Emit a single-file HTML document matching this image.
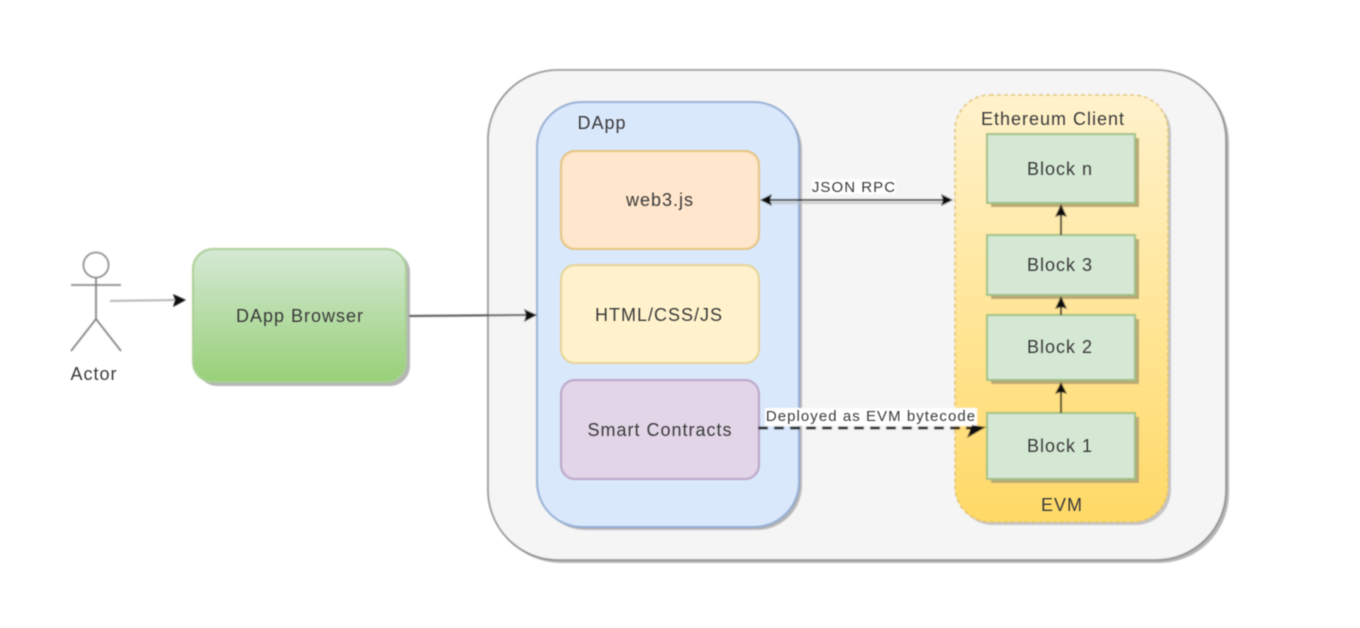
<!DOCTYPE html>
<html><head><meta charset="utf-8"><style>
html,body{margin:0;padding:0;background:#fff}
svg{display:block}
text{font-family:"Liberation Sans",sans-serif;font-size:18px;letter-spacing:1px;fill:#3a3a3a;text-anchor:middle}
</style></head><body>
<svg width="1360" height="628" viewBox="0 0 1360 628" xmlns="http://www.w3.org/2000/svg">
<defs>
<linearGradient id="g" x1="0" y1="0" x2="0" y2="1"><stop offset="0" stop-color="#d5e8d4"/><stop offset="1" stop-color="#97d077"/></linearGradient>
<linearGradient id="y" x1="0" y1="0" x2="0" y2="1"><stop offset="0" stop-color="#fff2cc"/><stop offset="1" stop-color="#ffd966"/></linearGradient>
<filter id="b" x="-5%" y="-5%" width="110%" height="110%"><feGaussianBlur stdDeviation="0.8"/></filter>
<filter id="t" x="-5%" y="-20%" width="110%" height="140%"><feGaussianBlur stdDeviation="0.5"/></filter>
</defs>
<g filter="url(#b)">
<rect x="491" y="73" width="738" height="490" rx="70" fill="#b5b5b5"/>
<rect x="488" y="70" width="738" height="490" rx="70" fill="#f5f5f5" stroke="#858585" stroke-width="1.6"/>
<rect x="540" y="105" width="262" height="425" rx="45" fill="#b5b5b5"/>
<rect x="537" y="102" width="262" height="425" rx="45" fill="#dae8fc" stroke="#8eabd2" stroke-width="2"/>
<rect x="561" y="151" width="198" height="98" rx="14" fill="#ffe6cc" stroke="#e6c06c" stroke-width="2"/>
<rect x="561" y="265" width="198" height="98" rx="14" fill="#fff2cc" stroke="#e6d28e" stroke-width="2"/>
<rect x="561" y="380" width="198" height="99" rx="14" fill="#e1d5e7" stroke="#b79ec3" stroke-width="2"/>
<rect x="958" y="98" width="213" height="427" rx="35" fill="#c4c4c4"/>
<rect x="955" y="95" width="213" height="427" rx="35" fill="url(#y)" stroke="#e0c060" stroke-width="1.5" stroke-dasharray="4 3"/>
<g fill="#b9a873">
<rect x="991" y="138" width="148" height="69"/>
<rect x="991" y="239" width="148" height="60"/>
<rect x="991" y="319" width="148" height="65"/>
<rect x="991" y="417" width="148" height="66"/>
</g>
<g fill="#d5e8d4" stroke="#9dc082" stroke-width="2">
<rect x="987" y="134" width="148" height="69"/>
<rect x="987" y="235" width="148" height="60"/>
<rect x="987" y="315" width="148" height="65"/>
<rect x="987" y="413" width="148" height="66"/>
</g>
<rect x="197" y="252" width="213" height="134" rx="20" fill="#b5b5b5"/>
<rect x="193" y="249" width="213" height="133" rx="20" fill="url(#g)" stroke="#a9cf94" stroke-width="2"/>
<g fill="none" stroke="#777" stroke-width="1.6">
<circle cx="96" cy="265" r="12.5" fill="#fff"/>
<path d="M71 285H121M96 277V319M96 319L71 351M96 319L121 351"/>
</g>
<path d="M110 301L175 300" stroke="#b5b5b5" stroke-width="2" fill="none"/>
<path d="M186 300L173 294L175 300L173 307Z" fill="#111"/>
<path d="M409 316L526 315" stroke="#555" stroke-width="2" fill="none"/>
<path d="M537 315L524 309L526 315L524 322Z" fill="#111"/>
<path d="M768 200H945" stroke="#333" stroke-width="2" fill="none"/>
<path d="M768 203H945" stroke="#bbb" stroke-width="1.5" fill="none"/>
<path d="M760 200L772 194L770 200L772 206Z M953 200L941 194L943 200L941 206Z" fill="#111"/>
<path d="M1061 235V212M1061 315V302M1061 413V392" stroke="#222" stroke-width="2" fill="none"/>
<path d="M1061 204L1055 217L1061 215L1067 217Z M1061 296L1055 309L1061 307L1067 309Z M1061 382L1055 394L1061 392L1067 394Z" fill="#111"/>
<rect x="812" y="179" width="84" height="15" fill="#fff"/>
<rect x="765" y="408" width="212" height="18" fill="#fff"/>
<path d="M758 428H972" stroke="#111" stroke-width="3" stroke-dasharray="10 6" fill="none"/>
<path d="M986 427L972 425L967 438Z" fill="#111"/>
</g>
<g filter="url(#t)">
<text x="94" y="380">Actor</text>
<text x="300" y="322">DApp Browser</text>
<text x="602" y="129">DApp</text>
<text x="660" y="206">web3.js</text>
<text x="659" y="321">HTML/CSS/JS</text>
<text x="660" y="436">Smart Contracts</text>
<text x="1053" y="125">Ethereum Client</text>
<text x="1060" y="175">Block n</text>
<text x="1060" y="271">Block 3</text>
<text x="1060" y="353">Block 2</text>
<text x="1060" y="452">Block 1</text>
<text x="1062" y="511">EVM</text>
<text x="854" y="192" style="font-size:15px;letter-spacing:1.05px">JSON RPC</text>
<text x="871" y="421" style="font-size:15px;letter-spacing:1.05px">Deployed as EVM bytecode</text>
</g>
</svg>
</body></html>
